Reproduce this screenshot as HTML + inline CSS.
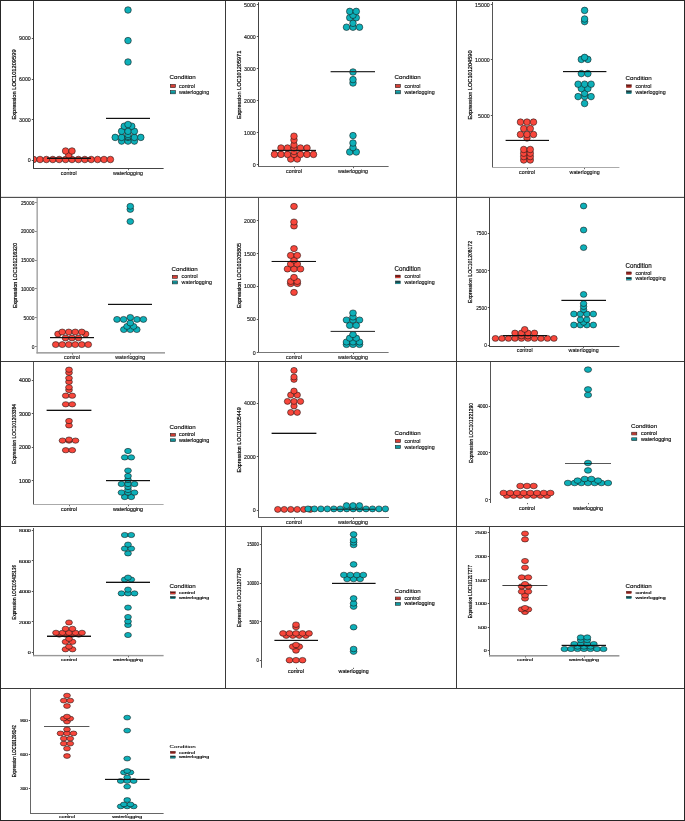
<!DOCTYPE html>
<html><head><meta charset="utf-8"><title>Expression dot plots</title>
<style>
html,body{margin:0;padding:0;background:#fff;}
body{width:685px;height:821px;overflow:hidden;}
svg{display:block;will-change:transform;opacity:0.999;}
svg text{font-family:"Liberation Sans",sans-serif;font-size:10px;}
</style></head><body>
<svg width="685" height="821" viewBox="0 0 685 821">
<rect x="0" y="0" width="685" height="821" fill="#ffffff"/>
<rect x="33.00" y="1.00" width="1" height="168.00" fill="#333"/>
<rect x="33.00" y="168.00" width="130.60" height="1" fill="#444"/>
<rect x="31.80" y="38" width="1.2" height="1" fill="#555"/>
<text transform="translate(30.80,40.36) scale(0.5300,0.5300)" text-anchor="end" fill="#111" stroke="#111" stroke-width="0.24">9000</text>
<rect x="31.80" y="79" width="1.2" height="1" fill="#555"/>
<text transform="translate(30.80,81.36) scale(0.5300,0.5300)" text-anchor="end" fill="#111" stroke="#111" stroke-width="0.24">6000</text>
<rect x="31.80" y="119" width="1.2" height="1" fill="#555"/>
<text transform="translate(30.80,122.16) scale(0.5300,0.5300)" text-anchor="end" fill="#111" stroke="#111" stroke-width="0.24">3000</text>
<rect x="31.80" y="160" width="1.2" height="1" fill="#555"/>
<text transform="translate(30.80,162.36) scale(0.5300,0.5300)" text-anchor="end" fill="#111" stroke="#111" stroke-width="0.24">0</text>
<rect x="68" y="169.00" width="1" height="1.2" fill="#444" fill-opacity="0.8"/>
<text transform="translate(68.80,174.99) scale(0.5300,0.5300)" text-anchor="middle" fill="#111" stroke="#111" stroke-width="0.24">control</text>
<rect x="128" y="169.00" width="1" height="1.2" fill="#444" fill-opacity="0.8"/>
<text transform="translate(128.00,174.99) scale(0.5300,0.5300)" text-anchor="middle" fill="#111" stroke="#111" stroke-width="0.24">waterlogging</text>
<text transform="translate(16.10,84.50) rotate(-90) scale(0.5719,0.5800)" text-anchor="middle" fill="#000" stroke="#000" stroke-width="0.35">Expression LOC101209599</text>
<clipPath id="clip1"><rect x="34.00" y="1" width="300" height="177.50"/></clipPath>
<g clip-path="url(#clip1)" stroke="#111" stroke-width="0.55">
<ellipse cx="27.20" cy="159.50" rx="3.30" ry="3.30" fill="#F8463B"/>
<ellipse cx="33.60" cy="159.50" rx="3.30" ry="3.30" fill="#F8463B"/>
<ellipse cx="40.00" cy="159.50" rx="3.30" ry="3.30" fill="#F8463B"/>
<ellipse cx="46.40" cy="159.50" rx="3.30" ry="3.30" fill="#F8463B"/>
<ellipse cx="52.80" cy="159.50" rx="3.30" ry="3.30" fill="#F8463B"/>
<ellipse cx="59.20" cy="159.50" rx="3.30" ry="3.30" fill="#F8463B"/>
<ellipse cx="65.60" cy="159.50" rx="3.30" ry="3.30" fill="#F8463B"/>
<ellipse cx="72.00" cy="159.50" rx="3.30" ry="3.30" fill="#F8463B"/>
<ellipse cx="78.40" cy="159.50" rx="3.30" ry="3.30" fill="#F8463B"/>
<ellipse cx="84.80" cy="159.50" rx="3.30" ry="3.30" fill="#F8463B"/>
<ellipse cx="91.20" cy="159.50" rx="3.30" ry="3.30" fill="#F8463B"/>
<ellipse cx="97.60" cy="159.50" rx="3.30" ry="3.30" fill="#F8463B"/>
<ellipse cx="104.00" cy="159.50" rx="3.30" ry="3.30" fill="#F8463B"/>
<ellipse cx="110.40" cy="159.50" rx="3.30" ry="3.30" fill="#F8463B"/>
<ellipse cx="68.80" cy="155.00" rx="3.30" ry="3.30" fill="#F8463B"/>
<ellipse cx="65.60" cy="151.00" rx="3.30" ry="3.30" fill="#F8463B"/>
<ellipse cx="72.00" cy="151.00" rx="3.30" ry="3.30" fill="#F8463B"/>
<ellipse cx="121.60" cy="141.10" rx="3.30" ry="3.30" fill="#0DB0B9"/>
<ellipse cx="128.00" cy="141.10" rx="3.30" ry="3.30" fill="#0DB0B9"/>
<ellipse cx="134.40" cy="141.10" rx="3.30" ry="3.30" fill="#0DB0B9"/>
<ellipse cx="115.20" cy="137.40" rx="3.30" ry="3.30" fill="#0DB0B9"/>
<ellipse cx="121.60" cy="137.40" rx="3.30" ry="3.30" fill="#0DB0B9"/>
<ellipse cx="128.00" cy="137.40" rx="3.30" ry="3.30" fill="#0DB0B9"/>
<ellipse cx="134.40" cy="137.40" rx="3.30" ry="3.30" fill="#0DB0B9"/>
<ellipse cx="140.80" cy="137.40" rx="3.30" ry="3.30" fill="#0DB0B9"/>
<ellipse cx="128.00" cy="136.30" rx="3.30" ry="3.30" fill="#0DB0B9"/>
<ellipse cx="128.00" cy="134.50" rx="3.30" ry="3.30" fill="#0DB0B9"/>
<ellipse cx="121.60" cy="131.30" rx="3.30" ry="3.30" fill="#0DB0B9"/>
<ellipse cx="128.00" cy="131.30" rx="3.30" ry="3.30" fill="#0DB0B9"/>
<ellipse cx="134.40" cy="131.30" rx="3.30" ry="3.30" fill="#0DB0B9"/>
<ellipse cx="124.25" cy="126.20" rx="3.30" ry="3.30" fill="#0DB0B9"/>
<ellipse cx="131.75" cy="126.20" rx="3.30" ry="3.30" fill="#0DB0B9"/>
<ellipse cx="128.00" cy="124.50" rx="3.30" ry="3.30" fill="#0DB0B9"/>
<ellipse cx="128.00" cy="62.00" rx="3.30" ry="3.30" fill="#0DB0B9"/>
<ellipse cx="128.00" cy="40.60" rx="3.30" ry="3.30" fill="#0DB0B9"/>
<ellipse cx="128.00" cy="10.00" rx="3.30" ry="3.30" fill="#0DB0B9"/>
</g>
<rect x="47.00" y="158" width="44.00" height="1" fill="#111"/>
<rect x="47.00" y="157" width="44.00" height="1" fill="#111" fill-opacity="0.45"/>
<rect x="106.00" y="118" width="44.00" height="1" fill="#111"/>
<rect x="106.00" y="117" width="44.00" height="1" fill="#111" fill-opacity="0.21"/>
<text transform="translate(169.60,79.40) scale(0.6200,0.5826)" text-anchor="start" fill="#000" stroke="#000" stroke-width="0.2">Condition</text>
<rect x="170.30" y="84.40" width="5.1" height="3.20" fill="#F8463B" stroke="#222" stroke-width="0.6"/>
<rect x="170.30" y="85.60" width="5.1" height="0.8" fill="#222" fill-opacity="0.4"/>
<text transform="translate(179.00,87.75) scale(0.5350,0.5350)" text-anchor="start" fill="#111" stroke="#111" stroke-width="0.24">control</text>
<rect x="170.30" y="90.60" width="5.1" height="3.20" fill="#0DB0B9" stroke="#222" stroke-width="0.6"/>
<rect x="170.30" y="91.80" width="5.1" height="0.8" fill="#222" fill-opacity="0.4"/>
<text transform="translate(179.00,93.95) scale(0.5350,0.5350)" text-anchor="start" fill="#111" stroke="#111" stroke-width="0.24">waterlogging</text>
<rect x="258.00" y="2.30" width="1" height="164.70" fill="#444"/>
<rect x="258.00" y="166.00" width="130.60" height="1" fill="#666"/>
<rect x="256.80" y="4" width="1.2" height="1" fill="#555"/>
<text transform="translate(255.80,7.26) scale(0.5300,0.5300)" text-anchor="end" fill="#111" stroke="#111" stroke-width="0.24">5000</text>
<rect x="256.80" y="36" width="1.2" height="1" fill="#555"/>
<text transform="translate(255.80,38.96) scale(0.5300,0.5300)" text-anchor="end" fill="#111" stroke="#111" stroke-width="0.24">4000</text>
<rect x="256.80" y="68" width="1.2" height="1" fill="#555"/>
<text transform="translate(255.80,70.76) scale(0.5300,0.5300)" text-anchor="end" fill="#111" stroke="#111" stroke-width="0.24">3000</text>
<rect x="256.80" y="100" width="1.2" height="1" fill="#555"/>
<text transform="translate(255.80,102.56) scale(0.5300,0.5300)" text-anchor="end" fill="#111" stroke="#111" stroke-width="0.24">2000</text>
<rect x="256.80" y="132" width="1.2" height="1" fill="#555"/>
<text transform="translate(255.80,134.56) scale(0.5300,0.5300)" text-anchor="end" fill="#111" stroke="#111" stroke-width="0.24">1000</text>
<rect x="256.80" y="164" width="1.2" height="1" fill="#555"/>
<text transform="translate(255.80,166.56) scale(0.5300,0.5300)" text-anchor="end" fill="#111" stroke="#111" stroke-width="0.24">0</text>
<rect x="294" y="167.00" width="1" height="1.2" fill="#444" fill-opacity="0.8"/>
<text transform="translate(294.00,173.39) scale(0.5300,0.5300)" text-anchor="middle" fill="#111" stroke="#111" stroke-width="0.24">control</text>
<rect x="353" y="167.00" width="1" height="1.2" fill="#444" fill-opacity="0.8"/>
<text transform="translate(353.00,173.39) scale(0.5300,0.5300)" text-anchor="middle" fill="#111" stroke="#111" stroke-width="0.24">waterlogging</text>
<text transform="translate(241.10,84.85) rotate(-90) scale(0.5564,0.5800)" text-anchor="middle" fill="#000" stroke="#000" stroke-width="0.35">Expression LOC101205971</text>
<clipPath id="clip2"><rect x="259.00" y="2.3" width="300" height="174.20"/></clipPath>
<g clip-path="url(#clip2)" stroke="#111" stroke-width="0.55">
<ellipse cx="290.75" cy="159.00" rx="3.30" ry="3.30" fill="#F8463B"/>
<ellipse cx="297.25" cy="159.00" rx="3.30" ry="3.30" fill="#F8463B"/>
<ellipse cx="274.50" cy="154.40" rx="3.30" ry="3.30" fill="#F8463B"/>
<ellipse cx="281.00" cy="154.40" rx="3.30" ry="3.30" fill="#F8463B"/>
<ellipse cx="287.50" cy="154.40" rx="3.30" ry="3.30" fill="#F8463B"/>
<ellipse cx="294.00" cy="154.40" rx="3.30" ry="3.30" fill="#F8463B"/>
<ellipse cx="300.50" cy="154.40" rx="3.30" ry="3.30" fill="#F8463B"/>
<ellipse cx="307.00" cy="154.40" rx="3.30" ry="3.30" fill="#F8463B"/>
<ellipse cx="313.50" cy="154.40" rx="3.30" ry="3.30" fill="#F8463B"/>
<ellipse cx="294.00" cy="151.50" rx="3.30" ry="3.30" fill="#F8463B"/>
<ellipse cx="281.00" cy="148.00" rx="3.30" ry="3.30" fill="#F8463B"/>
<ellipse cx="287.50" cy="148.00" rx="3.30" ry="3.30" fill="#F8463B"/>
<ellipse cx="294.00" cy="148.00" rx="3.30" ry="3.30" fill="#F8463B"/>
<ellipse cx="300.50" cy="148.00" rx="3.30" ry="3.30" fill="#F8463B"/>
<ellipse cx="307.00" cy="148.00" rx="3.30" ry="3.30" fill="#F8463B"/>
<ellipse cx="294.00" cy="145.00" rx="3.30" ry="3.30" fill="#F8463B"/>
<ellipse cx="294.00" cy="140.00" rx="3.30" ry="3.30" fill="#F8463B"/>
<ellipse cx="294.00" cy="136.20" rx="3.30" ry="3.30" fill="#F8463B"/>
<ellipse cx="349.75" cy="152.00" rx="3.30" ry="3.30" fill="#0DB0B9"/>
<ellipse cx="356.25" cy="152.00" rx="3.30" ry="3.30" fill="#0DB0B9"/>
<ellipse cx="353.00" cy="147.60" rx="3.30" ry="3.30" fill="#0DB0B9"/>
<ellipse cx="353.00" cy="143.00" rx="3.30" ry="3.30" fill="#0DB0B9"/>
<ellipse cx="353.00" cy="135.60" rx="3.30" ry="3.30" fill="#0DB0B9"/>
<ellipse cx="353.00" cy="83.00" rx="3.30" ry="3.30" fill="#0DB0B9"/>
<ellipse cx="353.00" cy="79.60" rx="3.30" ry="3.30" fill="#0DB0B9"/>
<ellipse cx="353.00" cy="72.00" rx="3.30" ry="3.30" fill="#0DB0B9"/>
<ellipse cx="346.50" cy="27.20" rx="3.30" ry="3.30" fill="#0DB0B9"/>
<ellipse cx="353.00" cy="27.20" rx="3.30" ry="3.30" fill="#0DB0B9"/>
<ellipse cx="359.50" cy="27.20" rx="3.30" ry="3.30" fill="#0DB0B9"/>
<ellipse cx="353.00" cy="23.30" rx="3.30" ry="3.30" fill="#0DB0B9"/>
<ellipse cx="349.75" cy="17.70" rx="3.30" ry="3.30" fill="#0DB0B9"/>
<ellipse cx="356.25" cy="17.70" rx="3.30" ry="3.30" fill="#0DB0B9"/>
<ellipse cx="353.00" cy="15.20" rx="3.30" ry="3.30" fill="#0DB0B9"/>
<ellipse cx="349.75" cy="11.40" rx="3.30" ry="3.30" fill="#0DB0B9"/>
<ellipse cx="356.25" cy="11.40" rx="3.30" ry="3.30" fill="#0DB0B9"/>
</g>
<rect x="272.00" y="150" width="44.00" height="1" fill="#111"/>
<rect x="272.00" y="149" width="44.00" height="1" fill="#111" fill-opacity="0.17"/>
<rect x="330.60" y="71" width="44.40" height="1" fill="#333"/>
<rect x="330.60" y="72" width="44.40" height="1" fill="#333" fill-opacity="0.29"/>
<text transform="translate(394.60,79.40) scale(0.6200,0.5826)" text-anchor="start" fill="#000" stroke="#000" stroke-width="0.2">Condition</text>
<rect x="395.30" y="84.40" width="5.1" height="3.20" fill="#F8463B" stroke="#222" stroke-width="0.6"/>
<rect x="395.30" y="85.60" width="5.1" height="0.8" fill="#222" fill-opacity="0.4"/>
<text transform="translate(404.40,87.75) scale(0.5350,0.5350)" text-anchor="start" fill="#111" stroke="#111" stroke-width="0.24">control</text>
<rect x="395.30" y="90.60" width="5.1" height="3.20" fill="#0DB0B9" stroke="#222" stroke-width="0.6"/>
<rect x="395.30" y="91.80" width="5.1" height="0.8" fill="#222" fill-opacity="0.4"/>
<text transform="translate(404.40,93.95) scale(0.5350,0.5350)" text-anchor="start" fill="#111" stroke="#111" stroke-width="0.24">waterlogging</text>
<rect x="492.00" y="2.00" width="1" height="166.00" fill="#555"/>
<rect x="492.00" y="167.00" width="127.40" height="1" fill="#aaa"/>
<rect x="490.80" y="4" width="1.2" height="1" fill="#555"/>
<text transform="translate(489.80,6.76) scale(0.5300,0.5300)" text-anchor="end" fill="#111" stroke="#111" stroke-width="0.24">15000</text>
<rect x="490.80" y="59" width="1.2" height="1" fill="#555"/>
<text transform="translate(489.80,62.16) scale(0.5300,0.5300)" text-anchor="end" fill="#111" stroke="#111" stroke-width="0.24">10000</text>
<rect x="490.80" y="115" width="1.2" height="1" fill="#555"/>
<text transform="translate(489.80,117.76) scale(0.5300,0.5300)" text-anchor="end" fill="#111" stroke="#111" stroke-width="0.24">5000</text>
<rect x="527" y="168.00" width="1" height="1.2" fill="#444" fill-opacity="0.8"/>
<text transform="translate(527.00,174.39) scale(0.5300,0.5300)" text-anchor="middle" fill="#111" stroke="#111" stroke-width="0.24">control</text>
<rect x="584" y="168.00" width="1" height="1.2" fill="#444" fill-opacity="0.8"/>
<text transform="translate(584.60,174.39) scale(0.5300,0.5300)" text-anchor="middle" fill="#111" stroke="#111" stroke-width="0.24">waterlogging</text>
<text transform="translate(472.10,85.00) rotate(-90) scale(0.5637,0.5800)" text-anchor="middle" fill="#000" stroke="#000" stroke-width="0.35">Expression LOC101204590</text>
<clipPath id="clip3"><rect x="493.00" y="2" width="300" height="175.50"/></clipPath>
<g clip-path="url(#clip3)" stroke="#111" stroke-width="0.55">
<ellipse cx="523.75" cy="160.00" rx="3.30" ry="3.30" fill="#F8463B"/>
<ellipse cx="530.25" cy="160.00" rx="3.30" ry="3.30" fill="#F8463B"/>
<ellipse cx="523.75" cy="156.60" rx="3.30" ry="3.30" fill="#F8463B"/>
<ellipse cx="530.25" cy="156.60" rx="3.30" ry="3.30" fill="#F8463B"/>
<ellipse cx="523.75" cy="153.20" rx="3.30" ry="3.30" fill="#F8463B"/>
<ellipse cx="530.25" cy="153.20" rx="3.30" ry="3.30" fill="#F8463B"/>
<ellipse cx="523.75" cy="149.50" rx="3.30" ry="3.30" fill="#F8463B"/>
<ellipse cx="530.25" cy="149.50" rx="3.30" ry="3.30" fill="#F8463B"/>
<ellipse cx="527.00" cy="138.00" rx="3.30" ry="3.30" fill="#F8463B"/>
<ellipse cx="520.50" cy="134.50" rx="3.30" ry="3.30" fill="#F8463B"/>
<ellipse cx="527.00" cy="134.50" rx="3.30" ry="3.30" fill="#F8463B"/>
<ellipse cx="533.50" cy="134.50" rx="3.30" ry="3.30" fill="#F8463B"/>
<ellipse cx="523.75" cy="128.60" rx="3.30" ry="3.30" fill="#F8463B"/>
<ellipse cx="530.25" cy="128.60" rx="3.30" ry="3.30" fill="#F8463B"/>
<ellipse cx="520.50" cy="122.10" rx="3.30" ry="3.30" fill="#F8463B"/>
<ellipse cx="527.00" cy="122.10" rx="3.30" ry="3.30" fill="#F8463B"/>
<ellipse cx="533.50" cy="122.10" rx="3.30" ry="3.30" fill="#F8463B"/>
<ellipse cx="584.60" cy="103.50" rx="3.30" ry="3.30" fill="#0DB0B9"/>
<ellipse cx="578.10" cy="96.60" rx="3.30" ry="3.30" fill="#0DB0B9"/>
<ellipse cx="584.60" cy="96.60" rx="3.30" ry="3.30" fill="#0DB0B9"/>
<ellipse cx="591.10" cy="96.60" rx="3.30" ry="3.30" fill="#0DB0B9"/>
<ellipse cx="584.60" cy="93.40" rx="3.30" ry="3.30" fill="#0DB0B9"/>
<ellipse cx="581.35" cy="88.60" rx="3.30" ry="3.30" fill="#0DB0B9"/>
<ellipse cx="587.85" cy="88.60" rx="3.30" ry="3.30" fill="#0DB0B9"/>
<ellipse cx="578.10" cy="84.20" rx="3.30" ry="3.30" fill="#0DB0B9"/>
<ellipse cx="584.60" cy="84.20" rx="3.30" ry="3.30" fill="#0DB0B9"/>
<ellipse cx="591.10" cy="84.20" rx="3.30" ry="3.30" fill="#0DB0B9"/>
<ellipse cx="581.35" cy="73.60" rx="3.30" ry="3.30" fill="#0DB0B9"/>
<ellipse cx="587.85" cy="73.60" rx="3.30" ry="3.30" fill="#0DB0B9"/>
<ellipse cx="581.35" cy="59.40" rx="3.30" ry="3.30" fill="#0DB0B9"/>
<ellipse cx="587.85" cy="59.40" rx="3.30" ry="3.30" fill="#0DB0B9"/>
<ellipse cx="584.60" cy="57.40" rx="3.30" ry="3.30" fill="#0DB0B9"/>
<ellipse cx="584.60" cy="21.60" rx="3.30" ry="3.30" fill="#0DB0B9"/>
<ellipse cx="584.60" cy="19.00" rx="3.30" ry="3.30" fill="#0DB0B9"/>
<ellipse cx="584.60" cy="10.40" rx="3.30" ry="3.30" fill="#0DB0B9"/>
</g>
<rect x="505.60" y="140" width="43.40" height="1" fill="#111"/>
<rect x="505.60" y="139" width="43.40" height="1" fill="#111" fill-opacity="0.17"/>
<rect x="563.00" y="71" width="43.40" height="1" fill="#111"/>
<rect x="563.00" y="72" width="43.40" height="1" fill="#111" fill-opacity="0.17"/>
<text transform="translate(625.60,79.60) scale(0.6200,0.5826)" text-anchor="start" fill="#000" stroke="#000" stroke-width="0.2">Condition</text>
<rect x="626.30" y="84.60" width="5.1" height="3.20" fill="#F8463B" stroke="#222" stroke-width="0.3"/>
<rect x="626.30" y="84.86" width="5.1" height="1.76" fill="#200" fill-opacity="0.68"/>
<text transform="translate(635.40,87.95) scale(0.5350,0.5350)" text-anchor="start" fill="#111" stroke="#111" stroke-width="0.24">control</text>
<rect x="626.30" y="90.60" width="5.1" height="3.20" fill="#0DB0B9" stroke="#222" stroke-width="0.3"/>
<rect x="626.30" y="90.86" width="5.1" height="1.76" fill="#200" fill-opacity="0.68"/>
<text transform="translate(635.40,93.95) scale(0.5350,0.5350)" text-anchor="start" fill="#111" stroke="#111" stroke-width="0.24">waterlogging</text>
<rect x="36.50" y="198.00" width="1.3" height="155.35" fill="#999"/>
<rect x="36.50" y="352.10" width="128.50" height="1.5" fill="#999"/>
<rect x="35.30" y="202" width="1.2" height="1" fill="#555"/>
<text transform="translate(34.45,204.62) scale(0.4876,0.4929)" text-anchor="end" fill="#111" stroke="#111" stroke-width="0.24">25000</text>
<rect x="35.30" y="231" width="1.2" height="1" fill="#555"/>
<text transform="translate(34.45,233.42) scale(0.4876,0.4929)" text-anchor="end" fill="#111" stroke="#111" stroke-width="0.24">20000</text>
<rect x="35.30" y="260" width="1.2" height="1" fill="#555"/>
<text transform="translate(34.45,262.22) scale(0.4876,0.4929)" text-anchor="end" fill="#111" stroke="#111" stroke-width="0.24">15000</text>
<rect x="35.30" y="288" width="1.2" height="1" fill="#555"/>
<text transform="translate(34.45,291.02) scale(0.4876,0.4929)" text-anchor="end" fill="#111" stroke="#111" stroke-width="0.24">10000</text>
<rect x="35.30" y="317" width="1.2" height="1" fill="#555"/>
<text transform="translate(34.45,319.82) scale(0.4876,0.4929)" text-anchor="end" fill="#111" stroke="#111" stroke-width="0.24">5000</text>
<rect x="35.30" y="346" width="1.2" height="1" fill="#555"/>
<text transform="translate(34.45,348.62) scale(0.4876,0.4929)" text-anchor="end" fill="#111" stroke="#111" stroke-width="0.24">0</text>
<rect x="72" y="353.35" width="1" height="1.2" fill="#444" fill-opacity="0.8"/>
<text transform="translate(72.00,358.68) scale(0.5300,0.4929)" text-anchor="middle" fill="#111" stroke="#111" stroke-width="0.24">control</text>
<rect x="130" y="353.35" width="1" height="1.2" fill="#444" fill-opacity="0.8"/>
<text transform="translate(130.30,358.68) scale(0.5300,0.4929)" text-anchor="middle" fill="#111" stroke="#111" stroke-width="0.24">waterlogging</text>
<text transform="translate(16.50,275.50) rotate(-90) scale(0.5295,0.5800)" text-anchor="middle" fill="#000" stroke="#000" stroke-width="0.35">Expression LOC101216320</text>
<clipPath id="clip4"><rect x="37.80" y="198" width="300" height="164.85"/></clipPath>
<g clip-path="url(#clip4)" stroke="#111" stroke-width="0.55">
<ellipse cx="55.75" cy="344.60" rx="3.35" ry="3.00" fill="#F8463B"/>
<ellipse cx="62.25" cy="344.60" rx="3.35" ry="3.00" fill="#F8463B"/>
<ellipse cx="68.75" cy="344.60" rx="3.35" ry="3.00" fill="#F8463B"/>
<ellipse cx="75.25" cy="344.60" rx="3.35" ry="3.00" fill="#F8463B"/>
<ellipse cx="81.75" cy="344.60" rx="3.35" ry="3.00" fill="#F8463B"/>
<ellipse cx="88.25" cy="344.60" rx="3.35" ry="3.00" fill="#F8463B"/>
<ellipse cx="65.50" cy="338.00" rx="3.35" ry="3.00" fill="#F8463B"/>
<ellipse cx="72.00" cy="338.00" rx="3.35" ry="3.00" fill="#F8463B"/>
<ellipse cx="78.50" cy="338.00" rx="3.35" ry="3.00" fill="#F8463B"/>
<ellipse cx="58.00" cy="334.00" rx="3.35" ry="3.00" fill="#F8463B"/>
<ellipse cx="85.60" cy="334.00" rx="3.35" ry="3.00" fill="#F8463B"/>
<ellipse cx="62.25" cy="332.00" rx="3.35" ry="3.00" fill="#F8463B"/>
<ellipse cx="68.75" cy="332.00" rx="3.35" ry="3.00" fill="#F8463B"/>
<ellipse cx="75.25" cy="332.00" rx="3.35" ry="3.00" fill="#F8463B"/>
<ellipse cx="81.75" cy="332.00" rx="3.35" ry="3.00" fill="#F8463B"/>
<ellipse cx="123.80" cy="329.60" rx="3.35" ry="3.00" fill="#0DB0B9"/>
<ellipse cx="130.30" cy="329.60" rx="3.35" ry="3.00" fill="#0DB0B9"/>
<ellipse cx="136.80" cy="329.60" rx="3.35" ry="3.00" fill="#0DB0B9"/>
<ellipse cx="127.05" cy="326.40" rx="3.35" ry="3.00" fill="#0DB0B9"/>
<ellipse cx="133.55" cy="326.40" rx="3.35" ry="3.00" fill="#0DB0B9"/>
<ellipse cx="130.30" cy="323.00" rx="3.35" ry="3.00" fill="#0DB0B9"/>
<ellipse cx="117.00" cy="319.40" rx="3.35" ry="3.00" fill="#0DB0B9"/>
<ellipse cx="123.60" cy="319.40" rx="3.35" ry="3.00" fill="#0DB0B9"/>
<ellipse cx="137.00" cy="319.40" rx="3.35" ry="3.00" fill="#0DB0B9"/>
<ellipse cx="143.40" cy="319.40" rx="3.35" ry="3.00" fill="#0DB0B9"/>
<ellipse cx="130.30" cy="317.40" rx="3.35" ry="3.00" fill="#0DB0B9"/>
<ellipse cx="130.30" cy="221.50" rx="3.35" ry="3.00" fill="#0DB0B9"/>
<ellipse cx="130.30" cy="209.40" rx="3.35" ry="3.00" fill="#0DB0B9"/>
<ellipse cx="130.30" cy="206.30" rx="3.35" ry="3.00" fill="#0DB0B9"/>
</g>
<rect x="50.00" y="337" width="44.00" height="1" fill="#111"/>
<rect x="50.00" y="338" width="44.00" height="1" fill="#111" fill-opacity="0.21"/>
<rect x="108.00" y="304" width="44.00" height="1" fill="#111"/>
<rect x="108.00" y="303" width="44.00" height="1" fill="#111" fill-opacity="0.21"/>
<text transform="translate(171.60,271.00) scale(0.6200,0.6227)" text-anchor="start" fill="#000" stroke="#000" stroke-width="0.2">Condition</text>
<rect x="172.30" y="275.31" width="5.1" height="2.98" fill="#F8463B" stroke="#222" stroke-width="0.6"/>
<rect x="172.30" y="276.40" width="5.1" height="0.8" fill="#222" fill-opacity="0.4"/>
<text transform="translate(181.60,278.43) scale(0.5350,0.4975)" text-anchor="start" fill="#111" stroke="#111" stroke-width="0.24">control</text>
<rect x="172.30" y="280.91" width="5.1" height="2.98" fill="#0DB0B9" stroke="#222" stroke-width="0.6"/>
<rect x="172.30" y="282.00" width="5.1" height="0.8" fill="#222" fill-opacity="0.4"/>
<text transform="translate(181.60,284.03) scale(0.5350,0.4975)" text-anchor="start" fill="#111" stroke="#111" stroke-width="0.24">waterlogging</text>
<rect x="258.00" y="198.00" width="1" height="155.00" fill="#555"/>
<rect x="258.00" y="352.00" width="130.60" height="1" fill="#777"/>
<rect x="256.80" y="220" width="1.2" height="1" fill="#555"/>
<text transform="translate(255.80,222.62) scale(0.5300,0.4929)" text-anchor="end" fill="#111" stroke="#111" stroke-width="0.24">2000</text>
<rect x="256.80" y="253" width="1.2" height="1" fill="#555"/>
<text transform="translate(255.80,255.62) scale(0.5300,0.4929)" text-anchor="end" fill="#111" stroke="#111" stroke-width="0.24">1500</text>
<rect x="256.80" y="286" width="1.2" height="1" fill="#555"/>
<text transform="translate(255.80,288.42) scale(0.5300,0.4929)" text-anchor="end" fill="#111" stroke="#111" stroke-width="0.24">1000</text>
<rect x="256.80" y="319" width="1.2" height="1" fill="#555"/>
<text transform="translate(255.80,321.22) scale(0.5300,0.4929)" text-anchor="end" fill="#111" stroke="#111" stroke-width="0.24">500</text>
<rect x="256.80" y="352" width="1.2" height="1" fill="#555"/>
<text transform="translate(255.80,354.52) scale(0.5300,0.4929)" text-anchor="end" fill="#111" stroke="#111" stroke-width="0.24">0</text>
<rect x="294" y="353.00" width="1" height="1.2" fill="#444" fill-opacity="0.8"/>
<text transform="translate(294.00,358.88) scale(0.5300,0.4929)" text-anchor="middle" fill="#111" stroke="#111" stroke-width="0.24">control</text>
<rect x="353" y="353.00" width="1" height="1.2" fill="#444" fill-opacity="0.8"/>
<text transform="translate(353.00,358.88) scale(0.5300,0.4929)" text-anchor="middle" fill="#111" stroke="#111" stroke-width="0.24">waterlogging</text>
<text transform="translate(240.70,275.50) rotate(-90) scale(0.5295,0.5800)" text-anchor="middle" fill="#000" stroke="#000" stroke-width="0.35">Expression LOC101205805</text>
<clipPath id="clip5"><rect x="259.00" y="198" width="300" height="164.50"/></clipPath>
<g clip-path="url(#clip5)" stroke="#111" stroke-width="0.55">
<ellipse cx="294.00" cy="292.40" rx="3.40" ry="3.10" fill="#F8463B"/>
<ellipse cx="290.75" cy="283.60" rx="3.40" ry="3.10" fill="#F8463B"/>
<ellipse cx="297.25" cy="283.60" rx="3.40" ry="3.10" fill="#F8463B"/>
<ellipse cx="290.75" cy="281.40" rx="3.40" ry="3.10" fill="#F8463B"/>
<ellipse cx="297.25" cy="281.40" rx="3.40" ry="3.10" fill="#F8463B"/>
<ellipse cx="294.00" cy="277.40" rx="3.40" ry="3.10" fill="#F8463B"/>
<ellipse cx="287.50" cy="269.00" rx="3.40" ry="3.10" fill="#F8463B"/>
<ellipse cx="294.00" cy="269.00" rx="3.40" ry="3.10" fill="#F8463B"/>
<ellipse cx="300.50" cy="269.00" rx="3.40" ry="3.10" fill="#F8463B"/>
<ellipse cx="290.75" cy="264.00" rx="3.40" ry="3.10" fill="#F8463B"/>
<ellipse cx="297.25" cy="264.00" rx="3.40" ry="3.10" fill="#F8463B"/>
<ellipse cx="294.00" cy="260.00" rx="3.40" ry="3.10" fill="#F8463B"/>
<ellipse cx="290.75" cy="255.40" rx="3.40" ry="3.10" fill="#F8463B"/>
<ellipse cx="297.25" cy="255.40" rx="3.40" ry="3.10" fill="#F8463B"/>
<ellipse cx="294.00" cy="248.60" rx="3.40" ry="3.10" fill="#F8463B"/>
<ellipse cx="294.00" cy="226.00" rx="3.40" ry="3.10" fill="#F8463B"/>
<ellipse cx="294.00" cy="222.00" rx="3.40" ry="3.10" fill="#F8463B"/>
<ellipse cx="294.00" cy="206.40" rx="3.40" ry="3.10" fill="#F8463B"/>
<ellipse cx="346.50" cy="344.50" rx="3.40" ry="3.10" fill="#0DB0B9"/>
<ellipse cx="353.00" cy="344.50" rx="3.40" ry="3.10" fill="#0DB0B9"/>
<ellipse cx="359.50" cy="344.50" rx="3.40" ry="3.10" fill="#0DB0B9"/>
<ellipse cx="346.50" cy="342.00" rx="3.40" ry="3.10" fill="#0DB0B9"/>
<ellipse cx="353.00" cy="342.00" rx="3.40" ry="3.10" fill="#0DB0B9"/>
<ellipse cx="359.50" cy="342.00" rx="3.40" ry="3.10" fill="#0DB0B9"/>
<ellipse cx="349.75" cy="338.20" rx="3.40" ry="3.10" fill="#0DB0B9"/>
<ellipse cx="356.25" cy="338.20" rx="3.40" ry="3.10" fill="#0DB0B9"/>
<ellipse cx="353.00" cy="334.60" rx="3.40" ry="3.10" fill="#0DB0B9"/>
<ellipse cx="349.75" cy="325.40" rx="3.40" ry="3.10" fill="#0DB0B9"/>
<ellipse cx="356.25" cy="325.40" rx="3.40" ry="3.10" fill="#0DB0B9"/>
<ellipse cx="346.50" cy="320.00" rx="3.40" ry="3.10" fill="#0DB0B9"/>
<ellipse cx="353.00" cy="320.00" rx="3.40" ry="3.10" fill="#0DB0B9"/>
<ellipse cx="359.50" cy="320.00" rx="3.40" ry="3.10" fill="#0DB0B9"/>
<ellipse cx="353.00" cy="317.00" rx="3.40" ry="3.10" fill="#0DB0B9"/>
<ellipse cx="353.00" cy="313.00" rx="3.40" ry="3.10" fill="#0DB0B9"/>
</g>
<rect x="271.60" y="261" width="44.40" height="1" fill="#111"/>
<rect x="271.60" y="260" width="44.40" height="1" fill="#111" fill-opacity="0.05"/>
<rect x="330.60" y="331" width="44.40" height="1" fill="#3a3a3a"/>
<rect x="330.60" y="330" width="44.40" height="1" fill="#3a3a3a" fill-opacity="0.13"/>
<text transform="translate(394.60,271.30) scale(0.6200,0.6495)" text-anchor="start" fill="#000" stroke="#000" stroke-width="0.2">Condition</text>
<rect x="395.30" y="275.01" width="5.1" height="2.98" fill="#F8463B" stroke="#222" stroke-width="0.3"/>
<rect x="395.30" y="275.25" width="5.1" height="1.64" fill="#200" fill-opacity="0.68"/>
<text transform="translate(404.40,278.13) scale(0.5350,0.4975)" text-anchor="start" fill="#111" stroke="#111" stroke-width="0.24">control</text>
<rect x="395.30" y="280.91" width="5.1" height="2.98" fill="#0DB0B9" stroke="#222" stroke-width="0.3"/>
<rect x="395.30" y="281.15" width="5.1" height="1.64" fill="#200" fill-opacity="0.68"/>
<text transform="translate(404.40,284.03) scale(0.5350,0.4975)" text-anchor="start" fill="#111" stroke="#111" stroke-width="0.24">waterlogging</text>
<rect x="489.00" y="198.00" width="1" height="149.00" fill="#444"/>
<rect x="489.00" y="346.00" width="130.40" height="1" fill="#444"/>
<rect x="487.80" y="233" width="1.2" height="1" fill="#555"/>
<text transform="translate(486.80,235.17) scale(0.4770,0.4770)" text-anchor="end" fill="#111" stroke="#111" stroke-width="0.24">7500</text>
<rect x="487.80" y="270" width="1.2" height="1" fill="#555"/>
<text transform="translate(486.80,272.57) scale(0.4770,0.4770)" text-anchor="end" fill="#111" stroke="#111" stroke-width="0.24">5000</text>
<rect x="487.80" y="307" width="1.2" height="1" fill="#555"/>
<text transform="translate(486.80,309.97) scale(0.4770,0.4770)" text-anchor="end" fill="#111" stroke="#111" stroke-width="0.24">2500</text>
<rect x="487.80" y="345" width="1.2" height="1" fill="#555"/>
<text transform="translate(486.80,347.17) scale(0.4770,0.4770)" text-anchor="end" fill="#111" stroke="#111" stroke-width="0.24">0</text>
<rect x="524" y="347.00" width="1" height="1.2" fill="#444" fill-opacity="0.8"/>
<text transform="translate(524.70,352.23) scale(0.5300,0.4770)" text-anchor="middle" fill="#111" stroke="#111" stroke-width="0.24">control</text>
<rect x="583" y="347.00" width="1" height="1.2" fill="#444" fill-opacity="0.8"/>
<text transform="translate(583.60,352.23) scale(0.5300,0.4770)" text-anchor="middle" fill="#111" stroke="#111" stroke-width="0.24">waterlogging</text>
<text transform="translate(472.10,272.00) rotate(-90) scale(0.5051,0.5800)" text-anchor="middle" fill="#000" stroke="#000" stroke-width="0.35">Expression LOC101208172</text>
<clipPath id="clip6"><rect x="490.00" y="198" width="300" height="158.50"/></clipPath>
<g clip-path="url(#clip6)" stroke="#111" stroke-width="0.55">
<ellipse cx="495.45" cy="338.40" rx="3.25" ry="2.95" fill="#F8463B"/>
<ellipse cx="501.95" cy="338.40" rx="3.25" ry="2.95" fill="#F8463B"/>
<ellipse cx="508.45" cy="338.40" rx="3.25" ry="2.95" fill="#F8463B"/>
<ellipse cx="514.95" cy="338.40" rx="3.25" ry="2.95" fill="#F8463B"/>
<ellipse cx="521.45" cy="338.40" rx="3.25" ry="2.95" fill="#F8463B"/>
<ellipse cx="527.95" cy="338.40" rx="3.25" ry="2.95" fill="#F8463B"/>
<ellipse cx="534.45" cy="338.40" rx="3.25" ry="2.95" fill="#F8463B"/>
<ellipse cx="540.95" cy="338.40" rx="3.25" ry="2.95" fill="#F8463B"/>
<ellipse cx="547.45" cy="338.40" rx="3.25" ry="2.95" fill="#F8463B"/>
<ellipse cx="553.95" cy="338.40" rx="3.25" ry="2.95" fill="#F8463B"/>
<ellipse cx="521.45" cy="336.00" rx="3.25" ry="2.95" fill="#F8463B"/>
<ellipse cx="527.95" cy="336.00" rx="3.25" ry="2.95" fill="#F8463B"/>
<ellipse cx="514.95" cy="333.00" rx="3.25" ry="2.95" fill="#F8463B"/>
<ellipse cx="521.45" cy="333.00" rx="3.25" ry="2.95" fill="#F8463B"/>
<ellipse cx="527.95" cy="333.00" rx="3.25" ry="2.95" fill="#F8463B"/>
<ellipse cx="534.45" cy="333.00" rx="3.25" ry="2.95" fill="#F8463B"/>
<ellipse cx="524.70" cy="329.40" rx="3.25" ry="2.95" fill="#F8463B"/>
<ellipse cx="573.85" cy="325.00" rx="3.25" ry="2.95" fill="#0DB0B9"/>
<ellipse cx="580.35" cy="325.00" rx="3.25" ry="2.95" fill="#0DB0B9"/>
<ellipse cx="586.85" cy="325.00" rx="3.25" ry="2.95" fill="#0DB0B9"/>
<ellipse cx="593.35" cy="325.00" rx="3.25" ry="2.95" fill="#0DB0B9"/>
<ellipse cx="583.60" cy="322.40" rx="3.25" ry="2.95" fill="#0DB0B9"/>
<ellipse cx="580.35" cy="319.60" rx="3.25" ry="2.95" fill="#0DB0B9"/>
<ellipse cx="586.85" cy="319.60" rx="3.25" ry="2.95" fill="#0DB0B9"/>
<ellipse cx="573.85" cy="314.00" rx="3.25" ry="2.95" fill="#0DB0B9"/>
<ellipse cx="580.35" cy="314.00" rx="3.25" ry="2.95" fill="#0DB0B9"/>
<ellipse cx="586.85" cy="314.00" rx="3.25" ry="2.95" fill="#0DB0B9"/>
<ellipse cx="593.35" cy="314.00" rx="3.25" ry="2.95" fill="#0DB0B9"/>
<ellipse cx="583.60" cy="309.60" rx="3.25" ry="2.95" fill="#0DB0B9"/>
<ellipse cx="583.60" cy="306.60" rx="3.25" ry="2.95" fill="#0DB0B9"/>
<ellipse cx="583.60" cy="303.60" rx="3.25" ry="2.95" fill="#0DB0B9"/>
<ellipse cx="583.60" cy="294.40" rx="3.25" ry="2.95" fill="#0DB0B9"/>
<ellipse cx="583.60" cy="247.60" rx="3.25" ry="2.95" fill="#0DB0B9"/>
<ellipse cx="583.60" cy="230.00" rx="3.25" ry="2.95" fill="#0DB0B9"/>
<ellipse cx="583.60" cy="206.00" rx="3.25" ry="2.95" fill="#0DB0B9"/>
</g>
<rect x="503.00" y="335" width="44.00" height="1" fill="#111"/>
<rect x="503.00" y="336" width="44.00" height="1" fill="#111" fill-opacity="0.21"/>
<rect x="561.40" y="300" width="44.60" height="1" fill="#111"/>
<rect x="561.40" y="299" width="44.60" height="1" fill="#111" fill-opacity="0.21"/>
<text transform="translate(625.60,268.30) scale(0.6200,0.6495)" text-anchor="start" fill="#000" stroke="#000" stroke-width="0.2">Condition</text>
<rect x="626.30" y="271.86" width="5.1" height="2.88" fill="#F8463B" stroke="#222" stroke-width="0.3"/>
<rect x="626.30" y="272.09" width="5.1" height="1.58" fill="#200" fill-opacity="0.68"/>
<text transform="translate(635.40,274.87) scale(0.5350,0.4815)" text-anchor="start" fill="#111" stroke="#111" stroke-width="0.24">control</text>
<rect x="626.30" y="277.26" width="5.1" height="2.88" fill="#0DB0B9" stroke="#222" stroke-width="0.3"/>
<rect x="626.30" y="277.49" width="5.1" height="1.58" fill="#200" fill-opacity="0.68"/>
<text transform="translate(635.40,280.27) scale(0.5350,0.4815)" text-anchor="start" fill="#111" stroke="#111" stroke-width="0.24">waterlogging</text>
<rect x="33.00" y="362.00" width="1" height="143.00" fill="#555"/>
<rect x="33.00" y="504.00" width="130.60" height="1" fill="#aaa"/>
<rect x="31.80" y="380" width="1.2" height="1" fill="#555"/>
<text transform="translate(30.80,382.09) scale(0.5300,0.4558)" text-anchor="end" fill="#111" stroke="#111" stroke-width="0.32">4000</text>
<rect x="31.80" y="413" width="1.2" height="1" fill="#555"/>
<text transform="translate(30.80,415.69) scale(0.5300,0.4558)" text-anchor="end" fill="#111" stroke="#111" stroke-width="0.32">3000</text>
<rect x="31.80" y="447" width="1.2" height="1" fill="#555"/>
<text transform="translate(30.80,449.29) scale(0.5300,0.4558)" text-anchor="end" fill="#111" stroke="#111" stroke-width="0.32">2000</text>
<rect x="31.80" y="480" width="1.2" height="1" fill="#555"/>
<text transform="translate(30.80,482.89) scale(0.5300,0.4558)" text-anchor="end" fill="#111" stroke="#111" stroke-width="0.32">1000</text>
<rect x="69" y="505.00" width="1" height="1.2" fill="#444" fill-opacity="0.8"/>
<text transform="translate(69.00,510.77) scale(0.5300,0.4558)" text-anchor="middle" fill="#111" stroke="#111" stroke-width="0.32">control</text>
<rect x="128" y="505.00" width="1" height="1.2" fill="#444" fill-opacity="0.8"/>
<text transform="translate(128.00,510.77) scale(0.5300,0.4558)" text-anchor="middle" fill="#111" stroke="#111" stroke-width="0.32">waterlogging</text>
<text transform="translate(16.10,434.00) rotate(-90) scale(0.4888,0.5800)" text-anchor="middle" fill="#000" stroke="#000" stroke-width="0.35">Expression LOC101203384</text>
<clipPath id="clip7"><rect x="34.00" y="362" width="300" height="152.50"/></clipPath>
<g clip-path="url(#clip7)" stroke="#111" stroke-width="0.55">
<ellipse cx="65.75" cy="450.20" rx="3.40" ry="2.65" fill="#F8463B"/>
<ellipse cx="72.25" cy="450.20" rx="3.40" ry="2.65" fill="#F8463B"/>
<ellipse cx="62.50" cy="440.60" rx="3.40" ry="2.65" fill="#F8463B"/>
<ellipse cx="69.00" cy="440.60" rx="3.40" ry="2.65" fill="#F8463B"/>
<ellipse cx="75.50" cy="440.60" rx="3.40" ry="2.65" fill="#F8463B"/>
<ellipse cx="69.00" cy="439.60" rx="3.40" ry="2.65" fill="#F8463B"/>
<ellipse cx="69.00" cy="425.40" rx="3.40" ry="2.65" fill="#F8463B"/>
<ellipse cx="69.00" cy="421.00" rx="3.40" ry="2.65" fill="#F8463B"/>
<ellipse cx="65.75" cy="404.30" rx="3.40" ry="2.65" fill="#F8463B"/>
<ellipse cx="72.25" cy="404.30" rx="3.40" ry="2.65" fill="#F8463B"/>
<ellipse cx="65.75" cy="395.70" rx="3.40" ry="2.65" fill="#F8463B"/>
<ellipse cx="72.25" cy="395.70" rx="3.40" ry="2.65" fill="#F8463B"/>
<ellipse cx="69.00" cy="390.00" rx="3.40" ry="2.65" fill="#F8463B"/>
<ellipse cx="69.00" cy="387.30" rx="3.40" ry="2.65" fill="#F8463B"/>
<ellipse cx="69.00" cy="381.90" rx="3.40" ry="2.65" fill="#F8463B"/>
<ellipse cx="69.00" cy="378.10" rx="3.40" ry="2.65" fill="#F8463B"/>
<ellipse cx="69.00" cy="372.70" rx="3.40" ry="2.65" fill="#F8463B"/>
<ellipse cx="69.00" cy="369.70" rx="3.40" ry="2.65" fill="#F8463B"/>
<ellipse cx="124.75" cy="497.00" rx="3.40" ry="2.65" fill="#0DB0B9"/>
<ellipse cx="131.25" cy="497.00" rx="3.40" ry="2.65" fill="#0DB0B9"/>
<ellipse cx="121.50" cy="492.60" rx="3.40" ry="2.65" fill="#0DB0B9"/>
<ellipse cx="128.00" cy="492.60" rx="3.40" ry="2.65" fill="#0DB0B9"/>
<ellipse cx="134.50" cy="492.60" rx="3.40" ry="2.65" fill="#0DB0B9"/>
<ellipse cx="128.00" cy="490.00" rx="3.40" ry="2.65" fill="#0DB0B9"/>
<ellipse cx="128.00" cy="487.00" rx="3.40" ry="2.65" fill="#0DB0B9"/>
<ellipse cx="121.50" cy="484.00" rx="3.40" ry="2.65" fill="#0DB0B9"/>
<ellipse cx="128.00" cy="484.00" rx="3.40" ry="2.65" fill="#0DB0B9"/>
<ellipse cx="134.50" cy="484.00" rx="3.40" ry="2.65" fill="#0DB0B9"/>
<ellipse cx="128.00" cy="480.00" rx="3.40" ry="2.65" fill="#0DB0B9"/>
<ellipse cx="128.00" cy="476.00" rx="3.40" ry="2.65" fill="#0DB0B9"/>
<ellipse cx="128.00" cy="470.60" rx="3.40" ry="2.65" fill="#0DB0B9"/>
<ellipse cx="124.75" cy="457.40" rx="3.40" ry="2.65" fill="#0DB0B9"/>
<ellipse cx="131.25" cy="457.40" rx="3.40" ry="2.65" fill="#0DB0B9"/>
<ellipse cx="128.00" cy="451.00" rx="3.40" ry="2.65" fill="#0DB0B9"/>
</g>
<rect x="46.60" y="410" width="44.80" height="1" fill="#111"/>
<rect x="46.60" y="409" width="44.80" height="1" fill="#111" fill-opacity="0.33"/>
<rect x="106.00" y="480" width="44.00" height="1" fill="#111"/>
<rect x="106.00" y="481" width="44.00" height="1" fill="#111" fill-opacity="0.21"/>
<text transform="translate(169.60,429.40) scale(0.6200,0.5558)" text-anchor="start" fill="#000" stroke="#000" stroke-width="0.2">Condition</text>
<rect x="170.30" y="433.42" width="5.1" height="2.75" fill="#F8463B" stroke="#222" stroke-width="0.6"/>
<rect x="170.30" y="434.40" width="5.1" height="0.8" fill="#222" fill-opacity="0.4"/>
<text transform="translate(179.00,436.30) scale(0.5350,0.4601)" text-anchor="start" fill="#111" stroke="#111" stroke-width="0.32">control</text>
<rect x="170.30" y="438.82" width="5.1" height="2.75" fill="#0DB0B9" stroke="#222" stroke-width="0.6"/>
<rect x="170.30" y="439.80" width="5.1" height="0.8" fill="#222" fill-opacity="0.4"/>
<text transform="translate(179.00,441.70) scale(0.5350,0.4601)" text-anchor="start" fill="#111" stroke="#111" stroke-width="0.32">waterlogging</text>
<rect x="258.00" y="362.00" width="1" height="156.00" fill="#555"/>
<rect x="258.00" y="517.00" width="131.00" height="1" fill="#666"/>
<rect x="256.80" y="403" width="1.2" height="1" fill="#555"/>
<text transform="translate(255.80,405.46) scale(0.5300,0.5035)" text-anchor="end" fill="#111" stroke="#111" stroke-width="0.24">4000</text>
<rect x="256.80" y="456" width="1.2" height="1" fill="#555"/>
<text transform="translate(255.80,458.86) scale(0.5300,0.5035)" text-anchor="end" fill="#111" stroke="#111" stroke-width="0.24">2000</text>
<rect x="256.80" y="510" width="1.2" height="1" fill="#555"/>
<text transform="translate(255.80,512.26) scale(0.5300,0.5035)" text-anchor="end" fill="#111" stroke="#111" stroke-width="0.24">0</text>
<rect x="294" y="518.00" width="1" height="1.2" fill="#444" fill-opacity="0.8"/>
<text transform="translate(294.00,523.51) scale(0.5300,0.5035)" text-anchor="middle" fill="#111" stroke="#111" stroke-width="0.24">control</text>
<rect x="353" y="518.00" width="1" height="1.2" fill="#444" fill-opacity="0.8"/>
<text transform="translate(353.00,523.51) scale(0.5300,0.5035)" text-anchor="middle" fill="#111" stroke="#111" stroke-width="0.24">waterlogging</text>
<text transform="translate(240.70,439.90) rotate(-90) scale(0.5295,0.5800)" text-anchor="middle" fill="#000" stroke="#000" stroke-width="0.35">Expression LOC101205449</text>
<clipPath id="clip8"><rect x="259.00" y="362" width="300" height="165.50"/></clipPath>
<g clip-path="url(#clip8)" stroke="#111" stroke-width="0.55">
<ellipse cx="277.75" cy="509.40" rx="3.20" ry="3.00" fill="#F8463B"/>
<ellipse cx="284.25" cy="509.40" rx="3.20" ry="3.00" fill="#F8463B"/>
<ellipse cx="290.75" cy="509.40" rx="3.20" ry="3.00" fill="#F8463B"/>
<ellipse cx="297.25" cy="509.40" rx="3.20" ry="3.00" fill="#F8463B"/>
<ellipse cx="303.75" cy="509.40" rx="3.20" ry="3.00" fill="#F8463B"/>
<ellipse cx="310.25" cy="509.40" rx="3.20" ry="3.00" fill="#F8463B"/>
<ellipse cx="290.75" cy="412.40" rx="3.20" ry="3.00" fill="#F8463B"/>
<ellipse cx="297.25" cy="412.40" rx="3.20" ry="3.00" fill="#F8463B"/>
<ellipse cx="294.00" cy="406.00" rx="3.20" ry="3.00" fill="#F8463B"/>
<ellipse cx="287.50" cy="401.40" rx="3.20" ry="3.00" fill="#F8463B"/>
<ellipse cx="294.00" cy="401.40" rx="3.20" ry="3.00" fill="#F8463B"/>
<ellipse cx="300.50" cy="401.40" rx="3.20" ry="3.00" fill="#F8463B"/>
<ellipse cx="290.75" cy="395.00" rx="3.20" ry="3.00" fill="#F8463B"/>
<ellipse cx="297.25" cy="395.00" rx="3.20" ry="3.00" fill="#F8463B"/>
<ellipse cx="294.00" cy="391.00" rx="3.20" ry="3.00" fill="#F8463B"/>
<ellipse cx="294.00" cy="379.40" rx="3.20" ry="3.00" fill="#F8463B"/>
<ellipse cx="294.00" cy="377.00" rx="3.20" ry="3.00" fill="#F8463B"/>
<ellipse cx="294.00" cy="370.40" rx="3.20" ry="3.00" fill="#F8463B"/>
<ellipse cx="308.00" cy="508.90" rx="3.20" ry="3.00" fill="#0DB0B9"/>
<ellipse cx="314.45" cy="508.90" rx="3.20" ry="3.00" fill="#0DB0B9"/>
<ellipse cx="320.90" cy="508.90" rx="3.20" ry="3.00" fill="#0DB0B9"/>
<ellipse cx="327.35" cy="508.90" rx="3.20" ry="3.00" fill="#0DB0B9"/>
<ellipse cx="333.80" cy="508.90" rx="3.20" ry="3.00" fill="#0DB0B9"/>
<ellipse cx="340.25" cy="508.90" rx="3.20" ry="3.00" fill="#0DB0B9"/>
<ellipse cx="346.70" cy="508.90" rx="3.20" ry="3.00" fill="#0DB0B9"/>
<ellipse cx="353.15" cy="508.90" rx="3.20" ry="3.00" fill="#0DB0B9"/>
<ellipse cx="359.60" cy="508.90" rx="3.20" ry="3.00" fill="#0DB0B9"/>
<ellipse cx="366.05" cy="508.90" rx="3.20" ry="3.00" fill="#0DB0B9"/>
<ellipse cx="372.50" cy="508.90" rx="3.20" ry="3.00" fill="#0DB0B9"/>
<ellipse cx="378.95" cy="508.90" rx="3.20" ry="3.00" fill="#0DB0B9"/>
<ellipse cx="385.40" cy="508.90" rx="3.20" ry="3.00" fill="#0DB0B9"/>
<ellipse cx="346.50" cy="505.60" rx="3.20" ry="3.00" fill="#0DB0B9"/>
<ellipse cx="353.00" cy="505.60" rx="3.20" ry="3.00" fill="#0DB0B9"/>
<ellipse cx="359.50" cy="505.60" rx="3.20" ry="3.00" fill="#0DB0B9"/>
</g>
<rect x="271.60" y="433" width="44.80" height="1" fill="#111"/>
<rect x="271.60" y="432" width="44.80" height="1" fill="#111" fill-opacity="0.33"/>
<rect x="331.00" y="508.80" width="44.00" height="0.8" fill="#111"/>
<text transform="translate(394.60,435.40) scale(0.6200,0.5558)" text-anchor="start" fill="#000" stroke="#000" stroke-width="0.2">Condition</text>
<rect x="395.30" y="439.48" width="5.1" height="3.04" fill="#F8463B" stroke="#222" stroke-width="0.6"/>
<rect x="395.30" y="440.60" width="5.1" height="0.8" fill="#222" fill-opacity="0.4"/>
<text transform="translate(404.40,442.66) scale(0.5350,0.5082)" text-anchor="start" fill="#111" stroke="#111" stroke-width="0.24">control</text>
<rect x="395.30" y="445.48" width="5.1" height="3.04" fill="#0DB0B9" stroke="#222" stroke-width="0.6"/>
<rect x="395.30" y="446.60" width="5.1" height="0.8" fill="#222" fill-opacity="0.4"/>
<text transform="translate(404.40,448.66) scale(0.5350,0.5082)" text-anchor="start" fill="#111" stroke="#111" stroke-width="0.24">waterlogging</text>
<rect x="490.00" y="362.00" width="1" height="141.00" fill="#555"/>
<rect x="488.80" y="406" width="1.2" height="1" fill="#555"/>
<text transform="translate(487.80,408.29) scale(0.4611,0.4558)" text-anchor="end" fill="#111" stroke="#111" stroke-width="0.32">4000</text>
<rect x="488.80" y="452" width="1.2" height="1" fill="#555"/>
<text transform="translate(487.80,454.89) scale(0.4611,0.4558)" text-anchor="end" fill="#111" stroke="#111" stroke-width="0.32">2000</text>
<rect x="488.80" y="499" width="1.2" height="1" fill="#555"/>
<text transform="translate(487.80,501.59) scale(0.4611,0.4558)" text-anchor="end" fill="#111" stroke="#111" stroke-width="0.32">0</text>
<rect x="527" y="503.00" width="1" height="1.2" fill="#444" fill-opacity="0.8"/>
<text transform="translate(527.00,509.57) scale(0.5300,0.4558)" text-anchor="middle" fill="#111" stroke="#111" stroke-width="0.32">control</text>
<rect x="588" y="503.00" width="1" height="1.2" fill="#444" fill-opacity="0.8"/>
<text transform="translate(588.00,509.57) scale(0.5300,0.4558)" text-anchor="middle" fill="#111" stroke="#111" stroke-width="0.32">waterlogging</text>
<text transform="translate(473.10,433.00) rotate(-90) scale(0.4888,0.5800)" text-anchor="middle" fill="#000" stroke="#000" stroke-width="0.35">Expression LOC101221290</text>
<clipPath id="clip9"><rect x="491.00" y="362" width="300" height="150.50"/></clipPath>
<g clip-path="url(#clip9)" stroke="#111" stroke-width="0.55">
<ellipse cx="506.90" cy="495.60" rx="3.60" ry="2.80" fill="#F8463B"/>
<ellipse cx="513.60" cy="495.60" rx="3.60" ry="2.80" fill="#F8463B"/>
<ellipse cx="520.30" cy="495.60" rx="3.60" ry="2.80" fill="#F8463B"/>
<ellipse cx="527.00" cy="495.60" rx="3.60" ry="2.80" fill="#F8463B"/>
<ellipse cx="533.70" cy="495.60" rx="3.60" ry="2.80" fill="#F8463B"/>
<ellipse cx="540.40" cy="495.60" rx="3.60" ry="2.80" fill="#F8463B"/>
<ellipse cx="547.10" cy="495.60" rx="3.60" ry="2.80" fill="#F8463B"/>
<ellipse cx="503.55" cy="493.00" rx="3.60" ry="2.80" fill="#F8463B"/>
<ellipse cx="510.25" cy="493.00" rx="3.60" ry="2.80" fill="#F8463B"/>
<ellipse cx="516.95" cy="493.00" rx="3.60" ry="2.80" fill="#F8463B"/>
<ellipse cx="523.65" cy="493.00" rx="3.60" ry="2.80" fill="#F8463B"/>
<ellipse cx="530.35" cy="493.00" rx="3.60" ry="2.80" fill="#F8463B"/>
<ellipse cx="537.05" cy="493.00" rx="3.60" ry="2.80" fill="#F8463B"/>
<ellipse cx="543.75" cy="493.00" rx="3.60" ry="2.80" fill="#F8463B"/>
<ellipse cx="550.45" cy="493.00" rx="3.60" ry="2.80" fill="#F8463B"/>
<ellipse cx="520.30" cy="486.00" rx="3.60" ry="2.80" fill="#F8463B"/>
<ellipse cx="527.00" cy="486.00" rx="3.60" ry="2.80" fill="#F8463B"/>
<ellipse cx="533.70" cy="486.00" rx="3.60" ry="2.80" fill="#F8463B"/>
<ellipse cx="567.90" cy="483.00" rx="3.60" ry="2.80" fill="#0DB0B9"/>
<ellipse cx="574.60" cy="483.00" rx="3.60" ry="2.80" fill="#0DB0B9"/>
<ellipse cx="581.30" cy="483.00" rx="3.60" ry="2.80" fill="#0DB0B9"/>
<ellipse cx="588.00" cy="483.00" rx="3.60" ry="2.80" fill="#0DB0B9"/>
<ellipse cx="594.70" cy="483.00" rx="3.60" ry="2.80" fill="#0DB0B9"/>
<ellipse cx="601.40" cy="483.00" rx="3.60" ry="2.80" fill="#0DB0B9"/>
<ellipse cx="608.10" cy="483.00" rx="3.60" ry="2.80" fill="#0DB0B9"/>
<ellipse cx="577.60" cy="480.60" rx="3.60" ry="2.80" fill="#0DB0B9"/>
<ellipse cx="598.00" cy="480.60" rx="3.60" ry="2.80" fill="#0DB0B9"/>
<ellipse cx="584.65" cy="479.00" rx="3.60" ry="2.80" fill="#0DB0B9"/>
<ellipse cx="591.35" cy="479.00" rx="3.60" ry="2.80" fill="#0DB0B9"/>
<ellipse cx="588.00" cy="470.40" rx="3.60" ry="2.80" fill="#0DB0B9"/>
<ellipse cx="588.00" cy="463.00" rx="3.60" ry="2.80" fill="#0DB0B9"/>
<ellipse cx="588.00" cy="395.00" rx="3.60" ry="2.80" fill="#0DB0B9"/>
<ellipse cx="588.00" cy="389.40" rx="3.60" ry="2.80" fill="#0DB0B9"/>
<ellipse cx="588.00" cy="369.60" rx="3.60" ry="2.80" fill="#0DB0B9"/>
</g>
<rect x="565.00" y="463.05" width="46.00" height="0.7" fill="#111"/>
<text transform="translate(631.00,428.40) scale(0.6200,0.5558)" text-anchor="start" fill="#000" stroke="#000" stroke-width="0.2">Condition</text>
<rect x="631.70" y="432.22" width="5.1" height="2.75" fill="#F8463B" stroke="#222" stroke-width="0.6"/>
<rect x="631.70" y="433.20" width="5.1" height="0.8" fill="#222" fill-opacity="0.4"/>
<text transform="translate(641.00,435.10) scale(0.5350,0.4601)" text-anchor="start" fill="#111" stroke="#111" stroke-width="0.32">control</text>
<rect x="631.70" y="437.82" width="5.1" height="2.75" fill="#0DB0B9" stroke="#222" stroke-width="0.6"/>
<rect x="631.70" y="438.80" width="5.1" height="0.8" fill="#222" fill-opacity="0.4"/>
<text transform="translate(641.00,440.70) scale(0.5350,0.4601)" text-anchor="start" fill="#111" stroke="#111" stroke-width="0.32">waterlogging</text>
<rect x="33.00" y="528.00" width="1" height="128.10" fill="#555"/>
<rect x="33.00" y="654.90" width="130.60" height="1.4" fill="#999"/>
<rect x="31.80" y="530" width="1.2" height="1" fill="#555"/>
<text transform="translate(30.80,531.94) scale(0.5300,0.4134)" text-anchor="end" fill="#111" stroke="#111" stroke-width="0.42">8000</text>
<rect x="31.80" y="560" width="1.2" height="1" fill="#555"/>
<text transform="translate(30.80,562.54) scale(0.5300,0.4134)" text-anchor="end" fill="#111" stroke="#111" stroke-width="0.42">6000</text>
<rect x="31.80" y="591" width="1.2" height="1" fill="#555"/>
<text transform="translate(30.80,593.14) scale(0.5300,0.4134)" text-anchor="end" fill="#111" stroke="#111" stroke-width="0.42">4000</text>
<rect x="31.80" y="621" width="1.2" height="1" fill="#555"/>
<text transform="translate(30.80,623.54) scale(0.5300,0.4134)" text-anchor="end" fill="#111" stroke="#111" stroke-width="0.42">2000</text>
<rect x="31.80" y="652" width="1.2" height="1" fill="#555"/>
<text transform="translate(30.80,654.44) scale(0.5300,0.4134)" text-anchor="end" fill="#111" stroke="#111" stroke-width="0.42">0</text>
<rect x="69" y="656.10" width="1" height="1.2" fill="#444" fill-opacity="0.8"/>
<text transform="translate(69.00,661.04) scale(0.5300,0.4134)" text-anchor="middle" fill="#111" stroke="#111" stroke-width="0.42">control</text>
<rect x="128" y="656.10" width="1" height="1.2" fill="#444" fill-opacity="0.8"/>
<text transform="translate(128.00,661.04) scale(0.5300,0.4134)" text-anchor="middle" fill="#111" stroke="#111" stroke-width="0.42">waterlogging</text>
<text transform="translate(15.70,592.20) rotate(-90) scale(0.4431,0.5800)" text-anchor="middle" fill="#000" stroke="#000" stroke-width="0.35">Expression LOC105435136</text>
<clipPath id="clip10"><rect x="34.00" y="528" width="300" height="137.60"/></clipPath>
<g clip-path="url(#clip10)" stroke="#111" stroke-width="0.55">
<ellipse cx="65.50" cy="649.30" rx="3.40" ry="2.60" fill="#F8463B"/>
<ellipse cx="72.50" cy="649.30" rx="3.40" ry="2.60" fill="#F8463B"/>
<ellipse cx="69.00" cy="646.60" rx="3.40" ry="2.60" fill="#F8463B"/>
<ellipse cx="65.50" cy="641.80" rx="3.40" ry="2.60" fill="#F8463B"/>
<ellipse cx="72.50" cy="641.80" rx="3.40" ry="2.60" fill="#F8463B"/>
<ellipse cx="69.00" cy="638.80" rx="3.40" ry="2.60" fill="#F8463B"/>
<ellipse cx="59.25" cy="634.60" rx="3.40" ry="2.60" fill="#F8463B"/>
<ellipse cx="65.75" cy="634.60" rx="3.40" ry="2.60" fill="#F8463B"/>
<ellipse cx="72.25" cy="634.60" rx="3.40" ry="2.60" fill="#F8463B"/>
<ellipse cx="78.75" cy="634.60" rx="3.40" ry="2.60" fill="#F8463B"/>
<ellipse cx="56.00" cy="632.80" rx="3.40" ry="2.60" fill="#F8463B"/>
<ellipse cx="62.50" cy="632.80" rx="3.40" ry="2.60" fill="#F8463B"/>
<ellipse cx="69.00" cy="632.80" rx="3.40" ry="2.60" fill="#F8463B"/>
<ellipse cx="75.50" cy="632.80" rx="3.40" ry="2.60" fill="#F8463B"/>
<ellipse cx="82.00" cy="632.80" rx="3.40" ry="2.60" fill="#F8463B"/>
<ellipse cx="65.55" cy="628.80" rx="3.40" ry="2.60" fill="#F8463B"/>
<ellipse cx="72.45" cy="628.80" rx="3.40" ry="2.60" fill="#F8463B"/>
<ellipse cx="69.00" cy="622.50" rx="3.40" ry="2.60" fill="#F8463B"/>
<ellipse cx="128.00" cy="635.00" rx="3.40" ry="2.60" fill="#0DB0B9"/>
<ellipse cx="128.00" cy="625.00" rx="3.40" ry="2.60" fill="#0DB0B9"/>
<ellipse cx="128.00" cy="621.40" rx="3.40" ry="2.60" fill="#0DB0B9"/>
<ellipse cx="128.00" cy="617.00" rx="3.40" ry="2.60" fill="#0DB0B9"/>
<ellipse cx="128.00" cy="607.60" rx="3.40" ry="2.60" fill="#0DB0B9"/>
<ellipse cx="121.50" cy="593.40" rx="3.40" ry="2.60" fill="#0DB0B9"/>
<ellipse cx="128.00" cy="593.40" rx="3.40" ry="2.60" fill="#0DB0B9"/>
<ellipse cx="134.50" cy="593.40" rx="3.40" ry="2.60" fill="#0DB0B9"/>
<ellipse cx="128.00" cy="589.60" rx="3.40" ry="2.60" fill="#0DB0B9"/>
<ellipse cx="124.75" cy="579.60" rx="3.40" ry="2.60" fill="#0DB0B9"/>
<ellipse cx="131.25" cy="579.60" rx="3.40" ry="2.60" fill="#0DB0B9"/>
<ellipse cx="128.00" cy="577.60" rx="3.40" ry="2.60" fill="#0DB0B9"/>
<ellipse cx="128.00" cy="553.40" rx="3.40" ry="2.60" fill="#0DB0B9"/>
<ellipse cx="124.75" cy="548.60" rx="3.40" ry="2.60" fill="#0DB0B9"/>
<ellipse cx="131.25" cy="548.60" rx="3.40" ry="2.60" fill="#0DB0B9"/>
<ellipse cx="128.00" cy="544.60" rx="3.40" ry="2.60" fill="#0DB0B9"/>
<ellipse cx="124.75" cy="535.00" rx="3.40" ry="2.60" fill="#0DB0B9"/>
<ellipse cx="131.25" cy="535.00" rx="3.40" ry="2.60" fill="#0DB0B9"/>
</g>
<rect x="47.00" y="636" width="44.00" height="1" fill="#111"/>
<rect x="47.00" y="635" width="44.00" height="1" fill="#111" fill-opacity="0.45"/>
<rect x="106.00" y="582" width="44.00" height="1" fill="#111"/>
<rect x="106.00" y="581" width="44.00" height="1" fill="#111" fill-opacity="0.33"/>
<text transform="translate(169.60,588.40) scale(0.6200,0.5290)" text-anchor="start" fill="#000" stroke="#000" stroke-width="0.2">Condition</text>
<rect x="170.30" y="591.65" width="5.1" height="2.50" fill="#F8463B" stroke="#222" stroke-width="0.3"/>
<rect x="170.30" y="591.85" width="5.1" height="1.37" fill="#200" fill-opacity="0.68"/>
<text transform="translate(179.00,594.26) scale(0.5350,0.4173)" text-anchor="start" fill="#111" stroke="#111" stroke-width="0.42">control</text>
<rect x="170.30" y="596.35" width="5.1" height="2.50" fill="#0DB0B9" stroke="#222" stroke-width="0.3"/>
<rect x="170.30" y="596.55" width="5.1" height="1.37" fill="#200" fill-opacity="0.68"/>
<text transform="translate(179.00,598.96) scale(0.5350,0.4173)" text-anchor="start" fill="#111" stroke="#111" stroke-width="0.42">waterlogging</text>
<rect x="261.00" y="527.00" width="1" height="140.80" fill="#555"/>
<rect x="259.80" y="544" width="1.2" height="1" fill="#555"/>
<text transform="translate(258.80,546.49) scale(0.4240,0.4558)" text-anchor="end" fill="#111" stroke="#111" stroke-width="0.32">15000</text>
<rect x="259.80" y="583" width="1.2" height="1" fill="#555"/>
<text transform="translate(258.80,585.29) scale(0.4240,0.4558)" text-anchor="end" fill="#111" stroke="#111" stroke-width="0.32">10000</text>
<rect x="259.80" y="621" width="1.2" height="1" fill="#555"/>
<text transform="translate(258.80,623.89) scale(0.4240,0.4558)" text-anchor="end" fill="#111" stroke="#111" stroke-width="0.32">5000</text>
<rect x="259.80" y="660" width="1.2" height="1" fill="#555"/>
<text transform="translate(258.80,662.49) scale(0.4240,0.4558)" text-anchor="end" fill="#111" stroke="#111" stroke-width="0.32">0</text>
<rect x="296" y="667.80" width="1" height="1.2" fill="#444" fill-opacity="0.8"/>
<text transform="translate(296.00,673.17) scale(0.5300,0.4558)" text-anchor="middle" fill="#111" stroke="#111" stroke-width="0.32">control</text>
<rect x="353" y="667.80" width="1" height="1.2" fill="#444" fill-opacity="0.8"/>
<text transform="translate(353.60,673.17) scale(0.5300,0.4558)" text-anchor="middle" fill="#111" stroke="#111" stroke-width="0.32">waterlogging</text>
<text transform="translate(240.70,597.70) rotate(-90) scale(0.4839,0.5800)" text-anchor="middle" fill="#000" stroke="#000" stroke-width="0.35">Expression LOC101207749</text>
<clipPath id="clip11"><rect x="262.00" y="527" width="300" height="150.30"/></clipPath>
<g clip-path="url(#clip11)" stroke="#111" stroke-width="0.55">
<ellipse cx="289.50" cy="660.20" rx="3.40" ry="2.80" fill="#F8463B"/>
<ellipse cx="296.00" cy="660.20" rx="3.40" ry="2.80" fill="#F8463B"/>
<ellipse cx="302.50" cy="660.20" rx="3.40" ry="2.80" fill="#F8463B"/>
<ellipse cx="296.00" cy="650.40" rx="3.40" ry="2.80" fill="#F8463B"/>
<ellipse cx="292.75" cy="646.60" rx="3.40" ry="2.80" fill="#F8463B"/>
<ellipse cx="299.25" cy="646.60" rx="3.40" ry="2.80" fill="#F8463B"/>
<ellipse cx="296.00" cy="645.00" rx="3.40" ry="2.80" fill="#F8463B"/>
<ellipse cx="286.25" cy="635.60" rx="3.40" ry="2.80" fill="#F8463B"/>
<ellipse cx="292.75" cy="635.60" rx="3.40" ry="2.80" fill="#F8463B"/>
<ellipse cx="299.25" cy="635.60" rx="3.40" ry="2.80" fill="#F8463B"/>
<ellipse cx="305.75" cy="635.60" rx="3.40" ry="2.80" fill="#F8463B"/>
<ellipse cx="283.00" cy="633.40" rx="3.40" ry="2.80" fill="#F8463B"/>
<ellipse cx="289.50" cy="633.40" rx="3.40" ry="2.80" fill="#F8463B"/>
<ellipse cx="296.00" cy="633.40" rx="3.40" ry="2.80" fill="#F8463B"/>
<ellipse cx="302.50" cy="633.40" rx="3.40" ry="2.80" fill="#F8463B"/>
<ellipse cx="309.00" cy="633.40" rx="3.40" ry="2.80" fill="#F8463B"/>
<ellipse cx="296.00" cy="627.00" rx="3.40" ry="2.80" fill="#F8463B"/>
<ellipse cx="296.00" cy="624.70" rx="3.40" ry="2.80" fill="#F8463B"/>
<ellipse cx="353.60" cy="651.60" rx="3.40" ry="2.80" fill="#0DB0B9"/>
<ellipse cx="353.60" cy="649.00" rx="3.40" ry="2.80" fill="#0DB0B9"/>
<ellipse cx="353.60" cy="627.20" rx="3.40" ry="2.80" fill="#0DB0B9"/>
<ellipse cx="353.60" cy="606.60" rx="3.40" ry="2.80" fill="#0DB0B9"/>
<ellipse cx="353.60" cy="603.40" rx="3.40" ry="2.80" fill="#0DB0B9"/>
<ellipse cx="353.60" cy="598.40" rx="3.40" ry="2.80" fill="#0DB0B9"/>
<ellipse cx="347.10" cy="579.00" rx="3.40" ry="2.80" fill="#0DB0B9"/>
<ellipse cx="353.60" cy="579.00" rx="3.40" ry="2.80" fill="#0DB0B9"/>
<ellipse cx="360.10" cy="579.00" rx="3.40" ry="2.80" fill="#0DB0B9"/>
<ellipse cx="343.85" cy="575.00" rx="3.40" ry="2.80" fill="#0DB0B9"/>
<ellipse cx="350.35" cy="575.00" rx="3.40" ry="2.80" fill="#0DB0B9"/>
<ellipse cx="356.85" cy="575.00" rx="3.40" ry="2.80" fill="#0DB0B9"/>
<ellipse cx="363.35" cy="575.00" rx="3.40" ry="2.80" fill="#0DB0B9"/>
<ellipse cx="353.60" cy="564.40" rx="3.40" ry="2.80" fill="#0DB0B9"/>
<ellipse cx="353.60" cy="545.00" rx="3.40" ry="2.80" fill="#0DB0B9"/>
<ellipse cx="353.60" cy="542.40" rx="3.40" ry="2.80" fill="#0DB0B9"/>
<ellipse cx="353.60" cy="540.00" rx="3.40" ry="2.80" fill="#0DB0B9"/>
<ellipse cx="353.60" cy="534.40" rx="3.40" ry="2.80" fill="#0DB0B9"/>
</g>
<rect x="274.40" y="640" width="43.60" height="1" fill="#111"/>
<rect x="274.40" y="639" width="43.60" height="1" fill="#111" fill-opacity="0.21"/>
<rect x="332.00" y="583" width="43.60" height="1" fill="#111"/>
<rect x="332.00" y="582" width="43.60" height="1" fill="#111" fill-opacity="0.21"/>
<text transform="translate(394.60,593.30) scale(0.6200,0.5290)" text-anchor="start" fill="#000" stroke="#000" stroke-width="0.2">Condition</text>
<rect x="395.30" y="597.02" width="5.1" height="2.75" fill="#F8463B" stroke="#222" stroke-width="0.6"/>
<rect x="395.30" y="598.00" width="5.1" height="0.8" fill="#222" fill-opacity="0.4"/>
<text transform="translate(404.40,599.90) scale(0.5350,0.4601)" text-anchor="start" fill="#111" stroke="#111" stroke-width="0.32">control</text>
<rect x="395.30" y="602.52" width="5.1" height="2.75" fill="#0DB0B9" stroke="#222" stroke-width="0.6"/>
<rect x="395.30" y="603.50" width="5.1" height="0.8" fill="#222" fill-opacity="0.4"/>
<text transform="translate(404.40,605.40) scale(0.5350,0.4601)" text-anchor="start" fill="#111" stroke="#111" stroke-width="0.32">waterlogging</text>
<rect x="489.00" y="527.00" width="1" height="129.30" fill="#555"/>
<rect x="489.00" y="655.00" width="130.40" height="1.6" fill="#999"/>
<rect x="487.80" y="532" width="1.2" height="1" fill="#555"/>
<text transform="translate(486.80,534.32) scale(0.5300,0.4081)" text-anchor="end" fill="#111" stroke="#111" stroke-width="0.42">2500</text>
<rect x="487.80" y="556" width="1.2" height="1" fill="#555"/>
<text transform="translate(486.80,557.92) scale(0.5300,0.4081)" text-anchor="end" fill="#111" stroke="#111" stroke-width="0.42">2000</text>
<rect x="487.80" y="579" width="1.2" height="1" fill="#555"/>
<text transform="translate(486.80,581.52) scale(0.5300,0.4081)" text-anchor="end" fill="#111" stroke="#111" stroke-width="0.42">1500</text>
<rect x="487.80" y="603" width="1.2" height="1" fill="#555"/>
<text transform="translate(486.80,605.32) scale(0.5300,0.4081)" text-anchor="end" fill="#111" stroke="#111" stroke-width="0.42">1000</text>
<rect x="487.80" y="627" width="1.2" height="1" fill="#555"/>
<text transform="translate(486.80,628.92) scale(0.5300,0.4081)" text-anchor="end" fill="#111" stroke="#111" stroke-width="0.42">500</text>
<rect x="487.80" y="650" width="1.2" height="1" fill="#555"/>
<text transform="translate(486.80,652.32) scale(0.5300,0.4081)" text-anchor="end" fill="#111" stroke="#111" stroke-width="0.42">0</text>
<rect x="525" y="656.30" width="1" height="1.2" fill="#444" fill-opacity="0.8"/>
<text transform="translate(525.00,661.02) scale(0.5300,0.4081)" text-anchor="middle" fill="#111" stroke="#111" stroke-width="0.42">control</text>
<rect x="584" y="656.30" width="1" height="1.2" fill="#444" fill-opacity="0.8"/>
<text transform="translate(584.00,661.02) scale(0.5300,0.4081)" text-anchor="middle" fill="#111" stroke="#111" stroke-width="0.42">waterlogging</text>
<text transform="translate(472.10,591.70) rotate(-90) scale(0.4350,0.5800)" text-anchor="middle" fill="#000" stroke="#000" stroke-width="0.35">Expression LOC101217277</text>
<clipPath id="clip12"><rect x="490.00" y="527" width="300" height="138.80"/></clipPath>
<g clip-path="url(#clip12)" stroke="#111" stroke-width="0.55">
<ellipse cx="525.00" cy="612.00" rx="3.50" ry="2.60" fill="#F8463B"/>
<ellipse cx="521.75" cy="609.40" rx="3.50" ry="2.60" fill="#F8463B"/>
<ellipse cx="528.25" cy="609.40" rx="3.50" ry="2.60" fill="#F8463B"/>
<ellipse cx="525.00" cy="608.00" rx="3.50" ry="2.60" fill="#F8463B"/>
<ellipse cx="525.00" cy="598.60" rx="3.50" ry="2.60" fill="#F8463B"/>
<ellipse cx="525.00" cy="595.40" rx="3.50" ry="2.60" fill="#F8463B"/>
<ellipse cx="521.75" cy="591.60" rx="3.50" ry="2.60" fill="#F8463B"/>
<ellipse cx="528.25" cy="591.60" rx="3.50" ry="2.60" fill="#F8463B"/>
<ellipse cx="521.75" cy="586.40" rx="3.50" ry="2.60" fill="#F8463B"/>
<ellipse cx="528.25" cy="586.40" rx="3.50" ry="2.60" fill="#F8463B"/>
<ellipse cx="525.00" cy="584.00" rx="3.50" ry="2.60" fill="#F8463B"/>
<ellipse cx="521.75" cy="577.40" rx="3.50" ry="2.60" fill="#F8463B"/>
<ellipse cx="528.25" cy="577.40" rx="3.50" ry="2.60" fill="#F8463B"/>
<ellipse cx="525.00" cy="567.60" rx="3.50" ry="2.60" fill="#F8463B"/>
<ellipse cx="525.00" cy="561.00" rx="3.50" ry="2.60" fill="#F8463B"/>
<ellipse cx="525.00" cy="539.40" rx="3.50" ry="2.60" fill="#F8463B"/>
<ellipse cx="525.00" cy="533.60" rx="3.50" ry="2.60" fill="#F8463B"/>
<ellipse cx="564.50" cy="649.00" rx="3.50" ry="2.60" fill="#0DB0B9"/>
<ellipse cx="571.00" cy="649.00" rx="3.50" ry="2.60" fill="#0DB0B9"/>
<ellipse cx="577.50" cy="649.00" rx="3.50" ry="2.60" fill="#0DB0B9"/>
<ellipse cx="584.00" cy="649.00" rx="3.50" ry="2.60" fill="#0DB0B9"/>
<ellipse cx="590.50" cy="649.00" rx="3.50" ry="2.60" fill="#0DB0B9"/>
<ellipse cx="597.00" cy="649.00" rx="3.50" ry="2.60" fill="#0DB0B9"/>
<ellipse cx="603.50" cy="649.00" rx="3.50" ry="2.60" fill="#0DB0B9"/>
<ellipse cx="577.50" cy="646.60" rx="3.50" ry="2.60" fill="#0DB0B9"/>
<ellipse cx="584.00" cy="646.60" rx="3.50" ry="2.60" fill="#0DB0B9"/>
<ellipse cx="590.50" cy="646.60" rx="3.50" ry="2.60" fill="#0DB0B9"/>
<ellipse cx="574.25" cy="644.00" rx="3.50" ry="2.60" fill="#0DB0B9"/>
<ellipse cx="580.75" cy="644.00" rx="3.50" ry="2.60" fill="#0DB0B9"/>
<ellipse cx="587.25" cy="644.00" rx="3.50" ry="2.60" fill="#0DB0B9"/>
<ellipse cx="593.75" cy="644.00" rx="3.50" ry="2.60" fill="#0DB0B9"/>
<ellipse cx="580.75" cy="640.00" rx="3.50" ry="2.60" fill="#0DB0B9"/>
<ellipse cx="587.25" cy="640.00" rx="3.50" ry="2.60" fill="#0DB0B9"/>
<ellipse cx="580.75" cy="637.40" rx="3.50" ry="2.60" fill="#0DB0B9"/>
<ellipse cx="587.25" cy="637.40" rx="3.50" ry="2.60" fill="#0DB0B9"/>
</g>
<rect x="502.40" y="585.00" width="45.00" height="0.8" fill="#111"/>
<rect x="561.60" y="645" width="44.40" height="1" fill="#111"/>
<rect x="561.60" y="644" width="44.40" height="1" fill="#111" fill-opacity="0.21"/>
<text transform="translate(625.60,588.20) scale(0.6200,0.6227)" text-anchor="start" fill="#000" stroke="#000" stroke-width="0.2">Condition</text>
<rect x="626.30" y="591.27" width="5.1" height="2.46" fill="#F8463B" stroke="#222" stroke-width="0.3"/>
<rect x="626.30" y="591.47" width="5.1" height="1.36" fill="#200" fill-opacity="0.68"/>
<text transform="translate(635.40,593.85) scale(0.5350,0.4119)" text-anchor="start" fill="#111" stroke="#111" stroke-width="0.42">control</text>
<rect x="626.30" y="596.27" width="5.1" height="2.46" fill="#0DB0B9" stroke="#222" stroke-width="0.3"/>
<rect x="626.30" y="596.47" width="5.1" height="1.36" fill="#200" fill-opacity="0.68"/>
<text transform="translate(635.40,598.85) scale(0.5350,0.4119)" text-anchor="start" fill="#111" stroke="#111" stroke-width="0.42">waterlogging</text>
<rect x="30.00" y="689.00" width="1" height="125.00" fill="#666"/>
<rect x="30.00" y="813.00" width="133.60" height="1" fill="#666"/>
<rect x="28.80" y="720" width="1.2" height="1" fill="#555"/>
<text transform="translate(27.80,722.08) scale(0.4505,0.3975)" text-anchor="end" fill="#111" stroke="#111" stroke-width="0.42">900</text>
<rect x="28.80" y="754" width="1.2" height="1" fill="#555"/>
<text transform="translate(27.80,756.08) scale(0.4505,0.3975)" text-anchor="end" fill="#111" stroke="#111" stroke-width="0.42">600</text>
<rect x="28.80" y="788" width="1.2" height="1" fill="#555"/>
<text transform="translate(27.80,790.08) scale(0.4505,0.3975)" text-anchor="end" fill="#111" stroke="#111" stroke-width="0.42">300</text>
<rect x="67" y="814.00" width="1" height="1.2" fill="#444" fill-opacity="0.8"/>
<text transform="translate(67.00,818.19) scale(0.5300,0.3975)" text-anchor="middle" fill="#111" stroke="#111" stroke-width="0.42">control</text>
<rect x="127" y="814.00" width="1" height="1.2" fill="#444" fill-opacity="0.8"/>
<text transform="translate(127.20,818.19) scale(0.5300,0.3975)" text-anchor="middle" fill="#111" stroke="#111" stroke-width="0.42">waterlogging</text>
<text transform="translate(15.70,751.20) rotate(-90) scale(0.4269,0.5800)" text-anchor="middle" fill="#000" stroke="#000" stroke-width="0.35">Expression LOC101206142</text>
<clipPath id="clip13"><rect x="31.00" y="689" width="300" height="134.50"/></clipPath>
<g clip-path="url(#clip13)" stroke="#111" stroke-width="0.55">
<ellipse cx="67.00" cy="756.00" rx="3.40" ry="2.40" fill="#F8463B"/>
<ellipse cx="67.00" cy="748.60" rx="3.40" ry="2.40" fill="#F8463B"/>
<ellipse cx="63.75" cy="743.60" rx="3.40" ry="2.40" fill="#F8463B"/>
<ellipse cx="70.25" cy="743.60" rx="3.40" ry="2.40" fill="#F8463B"/>
<ellipse cx="63.75" cy="738.60" rx="3.40" ry="2.40" fill="#F8463B"/>
<ellipse cx="70.25" cy="738.60" rx="3.40" ry="2.40" fill="#F8463B"/>
<ellipse cx="60.50" cy="733.40" rx="3.40" ry="2.40" fill="#F8463B"/>
<ellipse cx="67.00" cy="733.40" rx="3.40" ry="2.40" fill="#F8463B"/>
<ellipse cx="73.50" cy="733.40" rx="3.40" ry="2.40" fill="#F8463B"/>
<ellipse cx="67.00" cy="729.40" rx="3.40" ry="2.40" fill="#F8463B"/>
<ellipse cx="67.00" cy="721.60" rx="3.40" ry="2.40" fill="#F8463B"/>
<ellipse cx="63.75" cy="718.60" rx="3.40" ry="2.40" fill="#F8463B"/>
<ellipse cx="70.25" cy="718.60" rx="3.40" ry="2.40" fill="#F8463B"/>
<ellipse cx="67.00" cy="716.60" rx="3.40" ry="2.40" fill="#F8463B"/>
<ellipse cx="67.00" cy="706.00" rx="3.40" ry="2.40" fill="#F8463B"/>
<ellipse cx="63.75" cy="700.60" rx="3.40" ry="2.40" fill="#F8463B"/>
<ellipse cx="70.25" cy="700.60" rx="3.40" ry="2.40" fill="#F8463B"/>
<ellipse cx="67.00" cy="695.60" rx="3.40" ry="2.40" fill="#F8463B"/>
<ellipse cx="120.70" cy="806.40" rx="3.40" ry="2.40" fill="#0DB0B9"/>
<ellipse cx="127.20" cy="806.40" rx="3.40" ry="2.40" fill="#0DB0B9"/>
<ellipse cx="133.70" cy="806.40" rx="3.40" ry="2.40" fill="#0DB0B9"/>
<ellipse cx="123.95" cy="804.40" rx="3.40" ry="2.40" fill="#0DB0B9"/>
<ellipse cx="130.45" cy="804.40" rx="3.40" ry="2.40" fill="#0DB0B9"/>
<ellipse cx="127.20" cy="800.00" rx="3.40" ry="2.40" fill="#0DB0B9"/>
<ellipse cx="127.20" cy="786.60" rx="3.40" ry="2.40" fill="#0DB0B9"/>
<ellipse cx="120.70" cy="781.00" rx="3.40" ry="2.40" fill="#0DB0B9"/>
<ellipse cx="127.20" cy="781.00" rx="3.40" ry="2.40" fill="#0DB0B9"/>
<ellipse cx="133.70" cy="781.00" rx="3.40" ry="2.40" fill="#0DB0B9"/>
<ellipse cx="127.20" cy="777.40" rx="3.40" ry="2.40" fill="#0DB0B9"/>
<ellipse cx="123.95" cy="772.40" rx="3.40" ry="2.40" fill="#0DB0B9"/>
<ellipse cx="130.45" cy="772.40" rx="3.40" ry="2.40" fill="#0DB0B9"/>
<ellipse cx="127.20" cy="771.00" rx="3.40" ry="2.40" fill="#0DB0B9"/>
<ellipse cx="127.20" cy="758.60" rx="3.40" ry="2.40" fill="#0DB0B9"/>
<ellipse cx="127.20" cy="730.60" rx="3.40" ry="2.40" fill="#0DB0B9"/>
<ellipse cx="127.20" cy="717.60" rx="3.40" ry="2.40" fill="#0DB0B9"/>
</g>
<rect x="44.00" y="726.05" width="45.40" height="0.7" fill="#111"/>
<rect x="105.00" y="779" width="44.60" height="1" fill="#111"/>
<rect x="105.00" y="778" width="44.60" height="1" fill="#111" fill-opacity="0.17"/>
<text transform="translate(169.60,747.80) scale(0.6200,0.4285)" text-anchor="start" fill="#000" stroke="#000" stroke-width="0.2">Condition</text>
<rect x="170.30" y="751.30" width="5.1" height="2.40" fill="#F8463B" stroke="#222" stroke-width="0.3"/>
<rect x="170.30" y="751.49" width="5.1" height="1.32" fill="#200" fill-opacity="0.68"/>
<text transform="translate(179.00,753.81) scale(0.5350,0.4012)" text-anchor="start" fill="#111" stroke="#111" stroke-width="0.42">control</text>
<rect x="170.30" y="755.90" width="5.1" height="2.40" fill="#0DB0B9" stroke="#222" stroke-width="0.3"/>
<rect x="170.30" y="756.09" width="5.1" height="1.32" fill="#200" fill-opacity="0.68"/>
<text transform="translate(179.00,758.41) scale(0.5350,0.4012)" text-anchor="start" fill="#111" stroke="#111" stroke-width="0.42">waterlogging</text>
<rect x="0" y="196" width="685" height="1" fill="#e2e2e2"/>
<rect x="0" y="197" width="685" height="1" fill="#505050"/>
<rect x="0" y="361" width="685" height="1" fill="#3a3a3a"/>
<rect x="0" y="526" width="685" height="1" fill="#3a3a3a"/>
<rect x="0" y="688" width="685" height="1" fill="#3a3a3a"/>
<rect x="225" y="0" width="1" height="689" fill="#3a3a3a"/>
<rect x="456" y="0" width="1" height="689" fill="#3a3a3a"/>
<rect x="0" y="0" width="685" height="1" fill="#262626"/>
<rect x="0" y="820" width="685" height="1" fill="#262626"/>
<rect x="0" y="0" width="1" height="821" fill="#262626"/>
<rect x="684" y="0" width="1" height="821" fill="#262626"/>
</svg>
</body></html>
